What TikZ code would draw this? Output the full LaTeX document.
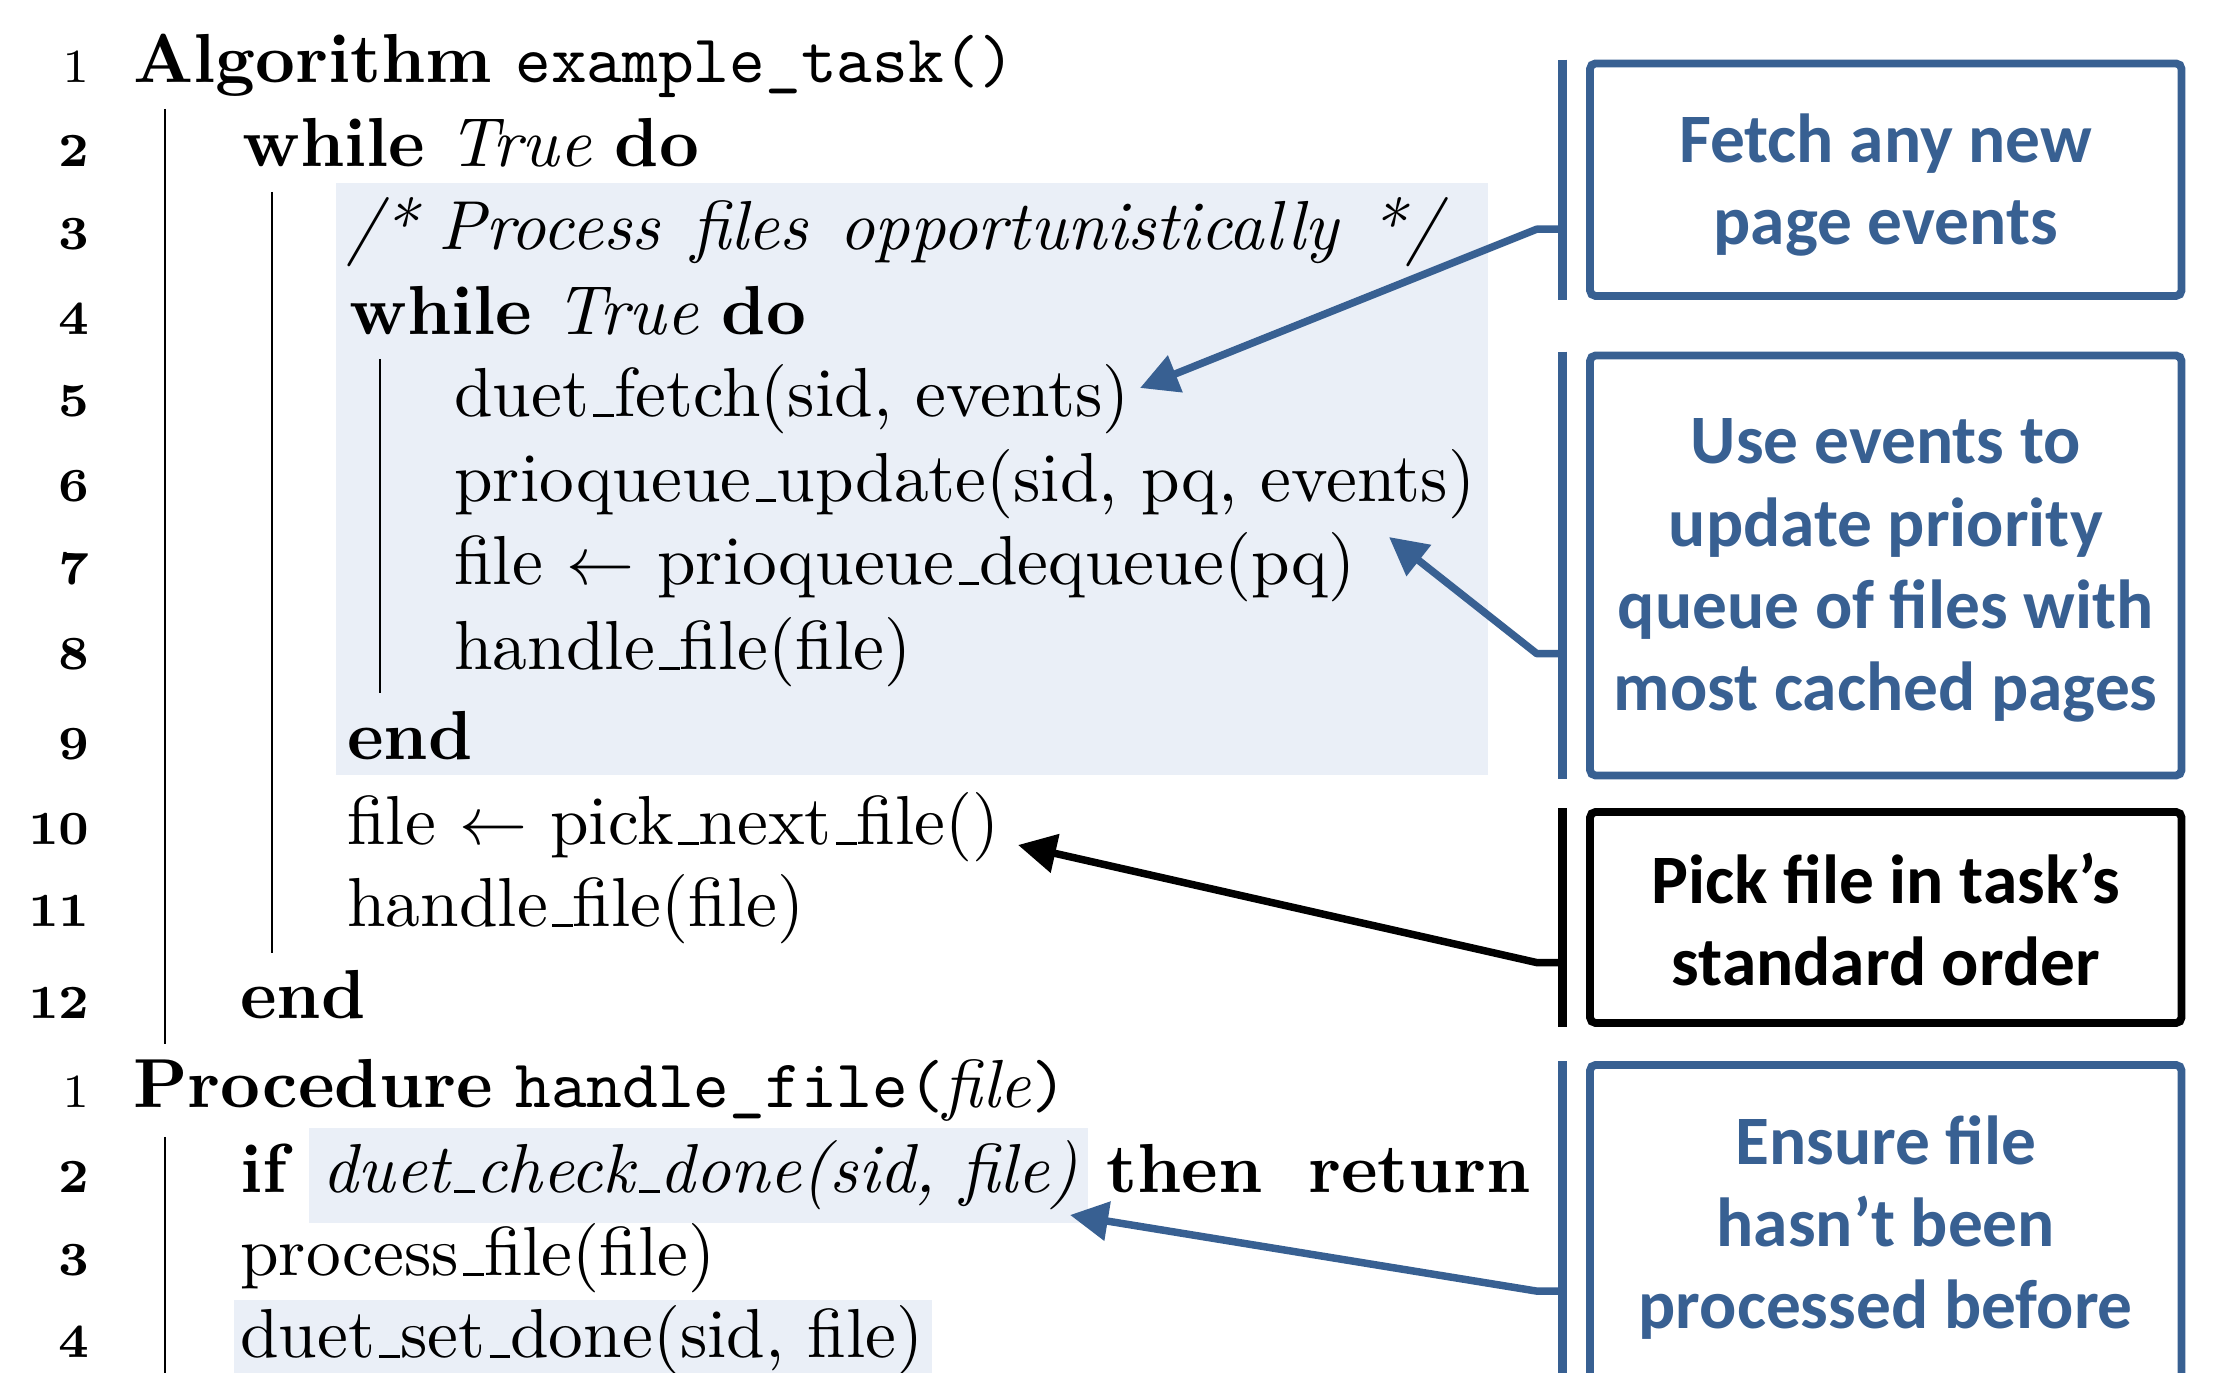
\documentclass[tikz,border=0pt]{standalone}
\usepackage{fontspec}
\newfontfamily\calib{Carlito}
\usetikzlibrary{arrows.meta,calc}
\definecolor{pblue}{RGB}{56,96,146}
\definecolor{lshade}{RGB}{234,239,247}
\newcommand\us{\leavevmode\kern.06em\vbox{\hrule width.3em}}
\begin{document}
\begin{tikzpicture}[x=0.147pt,y=-0.147pt,
  code/.style={anchor=base west,inner sep=0pt,font=\fontsize{10.2}{12}\selectfont},
  num/.style={anchor=base east,inner sep=0pt,font=\fontsize{7}{8}\selectfont\bfseries},
  numr/.style={anchor=base east,inner sep=0pt,font=\fontsize{7}{8}\selectfont},
  bar/.style={line width=0.4pt},
  callbox/.style={draw=pblue,line width=1.15pt,rounded corners=0.8pt,inner sep=0pt,minimum width=86.95pt},
  calltext/.style={text=pblue,font=\fontsize{10.2}{12.1}\selectfont\calib\bfseries,align=center,inner sep=0pt},
  brk/.style={line width=1.25pt},
  arr/.style={line width=1.1pt,line join=round,-{Triangle[length=5.6pt,width=5.6pt]}},
]
\useasboundingbox (0,0) rectangle (2215,1373);
\begin{scope}
\clip (0,0) rectangle (2215,1373);
% shaded regions
\fill[lshade] (336,183) rectangle (1488,775);
\fill[lshade] (309,1128) rectangle (1088,1223);
\fill[lshade] (234,1300) rectangle (932,1380);
% block bars
\draw[bar] (165,109) -- (165,1044);
\draw[bar] (272,192) -- (272,953);
\draw[bar] (380,359) -- (380,693);
\draw[bar] (165,1137) -- (165,1380);
% line numbers
\node[numr] (n1) at (91,83) {1};
\node[num] (n2) at (91,167) {2};
\node[num] (n3) at (91,250) {3};
\node[num] (n4) at (91,335) {4};
\node[num] (n5) at (91,417) {5};
\node[num] (n6) at (91,502) {6};
\node[num] (n7) at (91,585) {7};
\node[num] (n8) at (91,670) {8};
\node[num] (n9) at (91,760) {9};
\node[num] (n10) at (91,845) {10};
\node[num] (n11) at (91,927) {11};
\node[num] (n12) at (91,1019) {12};
\node[numr] (m1) at (91,1108) {1};
\node[num] (m2) at (91,1193) {2};
\node[num] (m3) at (91,1276) {3};
\node[num] (m4) at (91,1358) {4};
% code
\node[code] (c1) at (132,83) {\textbf{Algorithm}};
\node[code] (c1b) at (514,83) {\fontsize{10}{12}\selectfont\texttt{example\_task()}};
\node[code] (c2) at (241,167) {\textbf{while} \textit{True} \textbf{do}};
\node[code] (c3) at (345,250) {\textit{/*\hspace{0.3em}Process\hspace{0.45em}files\hspace{0.45em}opportunistically\hspace{0.45em}*/}};
\node[code] (c4) at (348,335) {\textbf{while} \textit{True} \textbf{do}};
\node[code] (c5) at (453,417) {duet\us fetch(sid, events)};
\node[code] (c6) at (453,502) {prioqueue\us update(sid, pq, events)};
\node[code] (c7) at (453,585) {file $\leftarrow$ prioqueue\us dequeue(pq)};
\node[code] (c8) at (453,670) {handle\us file(file)};
\node[code] (c9) at (346,760) {\textbf{end}};
\node[code] (c10) at (346,845) {file $\leftarrow$ pick\us next\us file()};
\node[code] (c11) at (346,927) {handle\us file(file)};
\node[code] (c12) at (239,1019) {\textbf{end}};
\node[code] (p1) at (132,1108) {\textbf{Procedure}};
\node[code] (p1b) at (514,1108) {\fontsize{10}{12}\selectfont\texttt{handle\_file(}\textit{file}\texttt{)}};
\node[code] (p2) at (239,1193) {\textbf{if}};
\node[code] (p2b) at (321,1193) {\textit{duet\us check\us done(sid, file)}};
\node[code] (p2c) at (1105,1193) {\textbf{then}};
\node[code] (p2d) at (1307,1193) {\textbf{return}};
\node[code] (p3) at (239,1276) {process\us file(file)};
\node[code] (p4) at (239,1358) {duet\us set\us done(sid, file)};
% callout boxes
\node[callbox,minimum height=34.18pt] (b1) at (1885.8,179.7) {};
\node[callbox,minimum height=61.74pt] (b2) at (1885.8,565.5) {};
\node[callbox,draw=black,minimum height=31.02pt] (b3) at (1885.8,917.5) {};
\node[callbox,minimum height=46.75pt] (b4) at (1885.8,1224) {};
\node[calltext] (l1) at (1885.8,185) {Fetch any new\\page events};
\node[calltext] (l2) at (1885.8,570.6) {Use events to\\update priority\\queue of files with\\most cached pages};
\node[calltext,text=black] (l3) at (1885.8,919.5) {Pick file in task’s\\standard order};
\node[calltext] (l4) at (1885.8,1227.7) {Ensure file\\hasn’t been\\processed before};
% arrow tips
\coordinate (t1) at (1140,388);
\coordinate (t2) at (1389,537);
\coordinate (t3) at (1018,845);
\coordinate (t4) at (1070,1215);
% brackets and arrows
\foreach \b/\t/\c in {b1/t1/pblue,b2/t2/pblue,b3/t3/black,b4/t4/pblue}{
  \draw[brk,\c] ([xshift=-3.44pt]\b.north west) -- ([xshift=-3.44pt]\b.south west);
  \coordinate (s\b) at ($([xshift=-3.44pt]\b.north west)!0.706!([xshift=-3.44pt]\b.south west)$);
  \draw[arr,\c] (s\b) -- ++(-26,0) -- (\t);
}
\end{scope}
\end{tikzpicture}
\end{document}
